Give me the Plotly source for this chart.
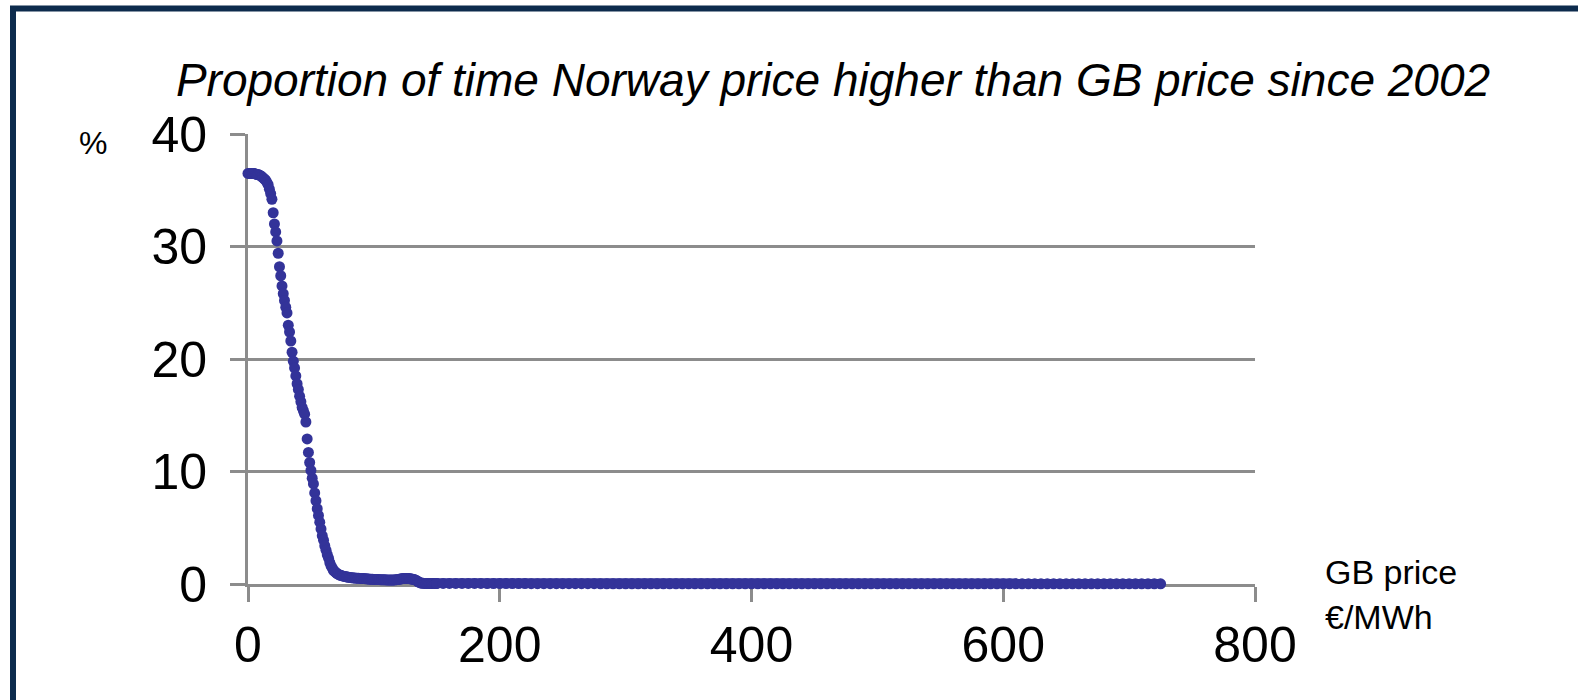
import plotly.graph_objects as go

# ---- data ----
# GB price (EUR/MWh), 1-unit steps in the steep region
price_head = list(range(0, 151))
share_head = [
    36.5, 36.5, 36.5, 36.5, 36.5, 36.5, 36.45, 36.4, 36.4, 36.35,
    36.3, 36.2, 36.1, 36.0, 35.9, 35.7, 35.5, 35.1, 34.7, 34.2,
    33.0, 32.0, 31.3, 30.5, 29.4, 28.2, 27.4, 26.5, 25.8, 25.2,
    24.6, 24.1, 23.0, 22.4, 21.6, 20.6, 19.8, 19.2, 18.5, 17.8,
    17.3, 16.7, 16.2, 15.7, 15.4, 15.1, 14.4, 12.9, 11.7, 10.8,
    10.1, 9.4, 8.9, 8.1, 7.4, 6.7, 6.1, 5.5, 4.9, 4.3,
    3.9, 3.4, 3.0, 2.6, 2.3, 1.9, 1.6, 1.4, 1.2, 1.1,
    1.0, 0.9, 0.85, 0.8, 0.75, 0.72, 0.7, 0.67, 0.64, 0.62,
    0.6, 0.58, 0.56, 0.55, 0.54, 0.53, 0.52, 0.52, 0.51, 0.5,
    0.5, 0.49, 0.48, 0.47, 0.46, 0.45, 0.44, 0.43, 0.42, 0.42,
    0.41, 0.41, 0.4, 0.4, 0.39, 0.38, 0.38, 0.37, 0.37, 0.37,
    0.36, 0.36, 0.36, 0.35, 0.35, 0.35, 0.36, 0.37, 0.38, 0.4,
    0.42, 0.44, 0.46, 0.48, 0.5, 0.5, 0.5, 0.49, 0.48, 0.46,
    0.44, 0.42, 0.4, 0.36, 0.3, 0.22, 0.15, 0.1, 0.08, 0.06,
    0.05, 0.05, 0.05, 0.05, 0.05, 0.05, 0.05, 0.05, 0.05, 0.05,
    0.05,
]
# flat tail, 5-unit steps
price_tail = list(range(150, 726, 5))
share_tail = [
    0.05,
    0.05, 0.05, 0.05, 0.05, 0.05, 0.05, 0.05, 0.04, 0.04, 0.04,
    0.04, 0.04, 0.04, 0.04, 0.03, 0.03, 0.03, 0.03, 0.03, 0.03,
    0.03, 0.03, 0.03, 0.03, 0.03, 0.02, 0.02, 0.02, 0.02, 0.02,
    0.02, 0.02, 0.02, 0.02, 0.02, 0.02, 0.02, 0.02, 0.02, 0.02,
    0.02, 0.02, 0.02, 0.02, 0.02, 0.02, 0.02, 0.02, 0.02, 0.02,
    0.02, 0.02, 0.02, 0.02, 0.02, 0.02, 0.02, 0.02, 0.02, 0.02,
    0.02, 0.02, 0.02, 0.02, 0.02, 0.02, 0.02, 0.02, 0.02, 0.02,
    0.02, 0.02, 0.02, 0.02, 0.02, 0.02, 0.02, 0.02, 0.02, 0.02,
    0.02, 0.02, 0.02, 0.02, 0.02, 0.02, 0.02, 0.02, 0.02, 0.02,
    0.02, 0.02, 0.02, 0.02, 0.02, 0.02, 0.02, 0.02, 0.02, 0.02,
    0.02, 0.02, 0.02, 0.02, 0.02, 0.02, 0.02, 0.02, 0.02, 0.02,
    0.02, 0.02, 0.02, 0.02, 0.02,
]
x_ticks = [0, 200, 400, 600, 800]
y_ticks = [0, 10, 20, 30, 40]

title_text = "Proportion of time Norway price higher than GB price since 2002"

# ---- figure ----
W, H = 1578, 700
L, R = 248, 1255      # plot area in pixels
T, B = 134, 584

def px_x(p):
    return (p - L) / (R - L)

def px_y(p):
    return (B - p) / (B - T)

grey = "#8c8c8c"
navy = "#0d2b4d"
dot_col = "#333399"
font_main = "Liberation Sans, Arial, sans-serif"

fig = go.Figure()
fig.add_trace(go.Scatter(
    x=price_head,
    y=share_head,
    mode="markers",
    marker=dict(size=11, color=dot_col, line=dict(width=0)),
    cliponaxis=False,
    hoverinfo="x+y",
))
fig.add_trace(go.Scatter(
    x=price_tail,
    y=share_tail,
    mode="lines+markers",
    line=dict(color=dot_col, width=10.5),
    marker=dict(size=11, color=dot_col, line=dict(width=0)),
    cliponaxis=False,
    hoverinfo="x+y",
))

fig.update_layout(
    width=W, height=H,
    margin=dict(l=L, r=W - R, t=T, b=H - B, pad=0),
    paper_bgcolor="white",
    plot_bgcolor="white",
    showlegend=False,
    font=dict(family=font_main, color="black"),
    title=dict(
        text=title_text,
        font=dict(family=font_main, size=46, style="italic", color="black"),
        x=833 / W, xanchor="center", xref="container",
        y=1 - 80 / H, yanchor="middle", yref="container",
    ),
    xaxis=dict(
        range=[0, 800],
        tickvals=x_ticks,
        ticktext=[str(v) for v in x_ticks],
        showgrid=False,
        zeroline=False,
        showline=True, linecolor=grey, linewidth=3,
        ticks="outside", ticklen=15, tickwidth=3, tickcolor=grey,
        tickfont=dict(size=50, family=font_main, color="black"),
        layer="below traces",
    ),
    yaxis=dict(
        range=[0, 40],
        tickvals=y_ticks,
        ticktext=[str(v) for v in y_ticks],
        showgrid=True, gridcolor=grey, gridwidth=3,
        zeroline=False,
        showline=True, linecolor=grey, linewidth=3,
        ticks="outside", ticklen=15, tickwidth=3, tickcolor=grey,
        ticklabelstandoff=13,
        tickfont=dict(size=50, family=font_main, color="black"),
        layer="below traces",
    ),
    annotations=[
        dict(text="%", x=px_x(93), y=px_y(143), xref="paper", yref="paper",
             xanchor="center", yanchor="middle", showarrow=False,
             font=dict(size=32, family=font_main, color="black")),
        dict(text="GB price", x=px_x(1323), y=px_y(572), xref="paper", yref="paper",
             xanchor="left", yanchor="middle", showarrow=False,
             font=dict(size=34, family=font_main, color="black")),
        dict(text="€/MWh", x=px_x(1323), y=px_y(617), xref="paper", yref="paper",
             xanchor="left", yanchor="middle", showarrow=False,
             font=dict(size=34, family=font_main, color="black")),
    ],
    shapes=[
        dict(type="rect", xref="paper", yref="paper",
             x0=px_x(13), x1=px_x(1700), y0=px_y(8.5), y1=px_y(900),
             line=dict(color=navy, width=6), fillcolor="rgba(0,0,0,0)", layer="above"),
    ],
)

fig.write_html(
    "out.html",
    config={"displayModeBar": False},
    post_script="document.body.style.margin='0';document.body.style.overflow='hidden';",
)
